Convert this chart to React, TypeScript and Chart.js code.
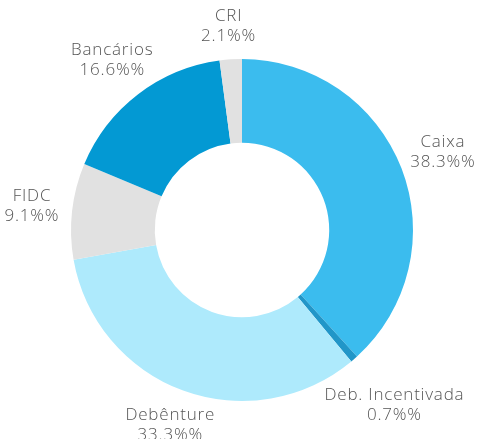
import React, { useEffect, useRef } from "react";
import { Chart, registerables } from "chart.js";

Chart.register(...registerables);

const categories = ["Caixa", "Deb. Incentivada", "Debênture", "FIDC", "Bancários", "CRI"];
const values = [38.3, 0.7, 33.3, 9.1, 16.6, 2.1];
const valueLabels = ["38.3%%", "0.7%%", "33.3%%", "9.1%%", "16.6%%", "2.1%%"];
const colors = ["#3bbcee", "#2196c8", "#aeeafc", "#e1e1e1", "#0399d3", "#e1e1e1"];

const FONT = "300 17px 'Open Sans'";

const outLabels = {
  id: "outLabels",
  afterDraw(chart: any) {
    const ctx = chart.ctx;
    const meta = chart.getDatasetMeta(0);
    ctx.save();
    ctx.font = FONT;
    try {
      (ctx as any).letterSpacing = "0.8px";
    } catch (e) {}
    ctx.fillStyle = "#555555";
    ctx.textAlign = "center";
    ctx.textBaseline = "middle";
    const lineH = 20;
    meta.data.forEach((arc: any, i: number) => {
      const p = arc.getProps(["x", "y", "startAngle", "endAngle", "outerRadius"], true);
      const mid = (p.startAngle + p.endAngle) / 2;
      const c = Math.cos(mid);
      const s = Math.sin(mid);
      const lines = [categories[i], valueLabels[i]];
      const w = Math.max(...lines.map((l) => ctx.measureText(l).width));
      const h = lines.length * lineH;
      const extra = Math.hypot((w / 2) * c, (h / 2) * s);
      const t = p.outerRadius + 13 + extra;
      const cx = p.x + t * c;
      const cy = p.y + t * s;
      lines.forEach((l, k) => {
        ctx.fillText(l, cx, cy - h / 2 + lineH / 2 + k * lineH);
      });
    });
    ctx.restore();
  },
};

export default function App() {
  const ref = useRef<HTMLCanvasElement>(null);
  useEffect(() => {
    document.body.style.margin = "0";
    const chart = new Chart(ref.current!, {
      type: "doughnut",
      data: {
        labels: categories,
        datasets: [
          {
            data: values,
            backgroundColor: colors,
            borderWidth: 0,
          },
        ],
      },
      options: {
        animation: false,
        responsive: false,
        cutout: "51%",
        layout: { padding: { top: 59, bottom: 38, left: 71, right: 64 } },
        plugins: {
          legend: { display: false },
          tooltip: { enabled: false },
        },
      },
      plugins: [outLabels],
    });
    return () => chart.destroy();
  }, []);
  return (
    <div style={{ width: 477, height: 439 }}>
      <canvas ref={ref} width={477} height={439} />
    </div>
  );
}
